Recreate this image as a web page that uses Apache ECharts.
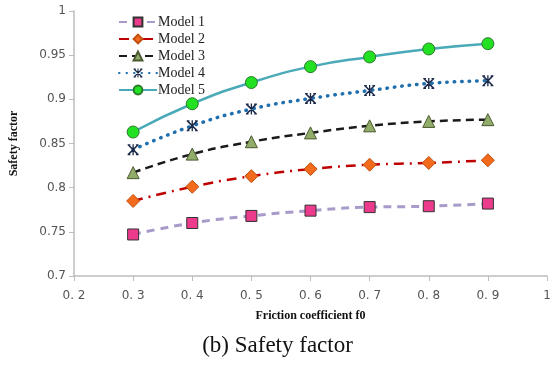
<!DOCTYPE html>
<html lang="en">
<head>
	<meta charset="UTF-8">
	<script src="https://cdn.jsdelivr.net/npm/echarts@6/dist/echarts.min.js"></script>
	<title>Safety factor</title>
	<style>
		html, body { margin: 0; padding: 0; background: #fff; }
	</style>
</head>
<body>
	<div id="main" style="width: 555px;height:365px;"></div>

	<script>
		// friction coefficient f0
		var frictionValues = [0.3, 0.4, 0.5, 0.6, 0.7, 0.8, 0.9];

		var model1 = [0.747, 0.760, 0.768, 0.774, 0.778, 0.779, 0.782];
		var model2 = [0.785, 0.801, 0.813, 0.821, 0.826, 0.828, 0.831];
		var model3 = [0.817, 0.838, 0.852, 0.862, 0.870, 0.875, 0.877];
		var model4 = [0.843, 0.870, 0.889, 0.901, 0.910, 0.918, 0.921];
		var model5 = [0.863, 0.895, 0.919, 0.937, 0.948, 0.957, 0.963];

		var seriesNames = ['Model 1', 'Model 2', 'Model 3', 'Model 4', 'Model 5'];

		// asterisk-like marker (Ж)
		var starPath = 'path://M4.4 0H5.6V10H4.4Z M0 1L1 0L10 9L9 10Z M9 0L10 1L1 10L0 9Z M0 0H2.5V1H0Z M7.5 0H10V1H7.5Z M0 9H2.5V10H0Z M7.5 9H10V10H7.5Z';

		function pairs(arr) {
			return arr.map(function (v, i) { return [frictionValues[i], v]; });
		}

		var chart = echarts.init(document.getElementById('main'));

		var option = {
			backgroundColor: '#fff',
			animation: false,
			title: {
				text: '(b) Safety factor',
				left: 'center',
				top: 329,
				textStyle: {
					fontFamily: '"Liberation Serif", "Times New Roman", serif',
					fontWeight: 'normal',
					fontSize: 23,
					color: '#111'
				}
			},
			legend: {
				orient: 'vertical',
				left: 113,
				top: 10,
				itemWidth: 38,
				itemHeight: 11,
				itemGap: 3,
				data: seriesNames,
				textStyle: {
					fontFamily: '"Liberation Serif", "Times New Roman", serif',
					fontSize: 14,
					color: '#222',
					padding: [0, 0, 0, -4]
				}
			},
			grid: {
				left: 74,
				right: 8,
				top: 11,
				bottom: 89
			},
			xAxis: {
				type: 'value',
				min: 0.2,
				max: 1,
				interval: 0.1,
				name: 'Friction coefficient f0',
				nameLocation: 'middle',
				nameGap: 34,
				nameTextStyle: {
					fontFamily: '"Liberation Serif", "Times New Roman", serif',
					fontWeight: 'bold',
					fontSize: 12,
					color: '#111'
				},
				axisLine: { lineStyle: { color: '#bdbdbd', width: 1.5 } },
				axisTick: { show: true, length: 5, lineStyle: { color: '#bdbdbd' } },
				splitLine: { show: false },
				axisLabel: {
					margin: 14,
					fontFamily: '"DejaVu Sans", sans-serif',
					fontSize: 12,
					color: '#555',
					formatter: function (v) {
						var r = Math.round(v * 10) / 10;
						if (r === 1) return '1';
						return r.toFixed(1).replace('.', '. ');
					}
				}
			},
			yAxis: {
				type: 'value',
				min: 0.7,
				max: 1,
				interval: 0.05,
				name: 'Safety factor',
				nameLocation: 'middle',
				nameGap: 54,
				nameTextStyle: {
					fontFamily: '"Liberation Serif", "Times New Roman", serif',
					fontWeight: 'bold',
					fontSize: 12,
					color: '#111'
				},
				axisLine: { show: true, lineStyle: { color: '#bdbdbd', width: 1.5 } },
				axisTick: { show: true, length: 5, lineStyle: { color: '#bdbdbd' } },
				splitLine: { show: false },
				axisLabel: {
					margin: 8,
					fontFamily: '"DejaVu Sans", sans-serif',
					fontSize: 12,
					color: '#555',
					formatter: function (v) {
						return String(Math.round(v * 100) / 100);
					}
				}
			},
			series: [
				{
					name: 'Model 1',
					type: 'line',
					smooth: true,
					data: pairs(model1),
					symbol: 'rect',
					symbolSize: 11,
					lineStyle: { color: '#a99bc9', width: 3, type: [8, 6] },
					itemStyle: { color: '#ec3a8c', borderColor: '#333', borderWidth: 1 }
				},
				{
					name: 'Model 2',
					type: 'line',
					smooth: true,
					data: pairs(model2),
					symbol: 'diamond',
					symbolSize: 13,
					lineStyle: { color: '#c00000', width: 2.5, type: [10, 6, 2, 6] },
					itemStyle: { color: '#f26b1d', borderColor: '#c05010', borderWidth: 1 }
				},
				{
					name: 'Model 3',
					type: 'line',
					smooth: true,
					data: pairs(model3),
					symbol: 'triangle',
					symbolSize: 12,
					lineStyle: { color: '#1a1a1a', width: 2.5, type: [8, 5] },
					itemStyle: { color: '#92ad69', borderColor: '#4a5a30', borderWidth: 1 }
				},
				{
					name: 'Model 4',
					type: 'line',
					smooth: true,
					data: pairs(model4),
					symbol: starPath,
					symbolSize: 11,
					lineStyle: { color: '#1f6fae', width: 3.5, type: [0.5, 7], cap: 'round' },
					itemStyle: { color: '#1b2a4a' }
				},
				{
					name: 'Model 5',
					type: 'line',
					smooth: true,
					data: pairs(model5),
					symbol: 'circle',
					symbolSize: 12,
					lineStyle: { color: '#4aaab8', width: 2.5 },
					itemStyle: { color: '#22e022', borderColor: '#2a7a2a', borderWidth: 1 }
				}
			]
		};

		chart.setOption(option);
	</script>
</body>
</html>
